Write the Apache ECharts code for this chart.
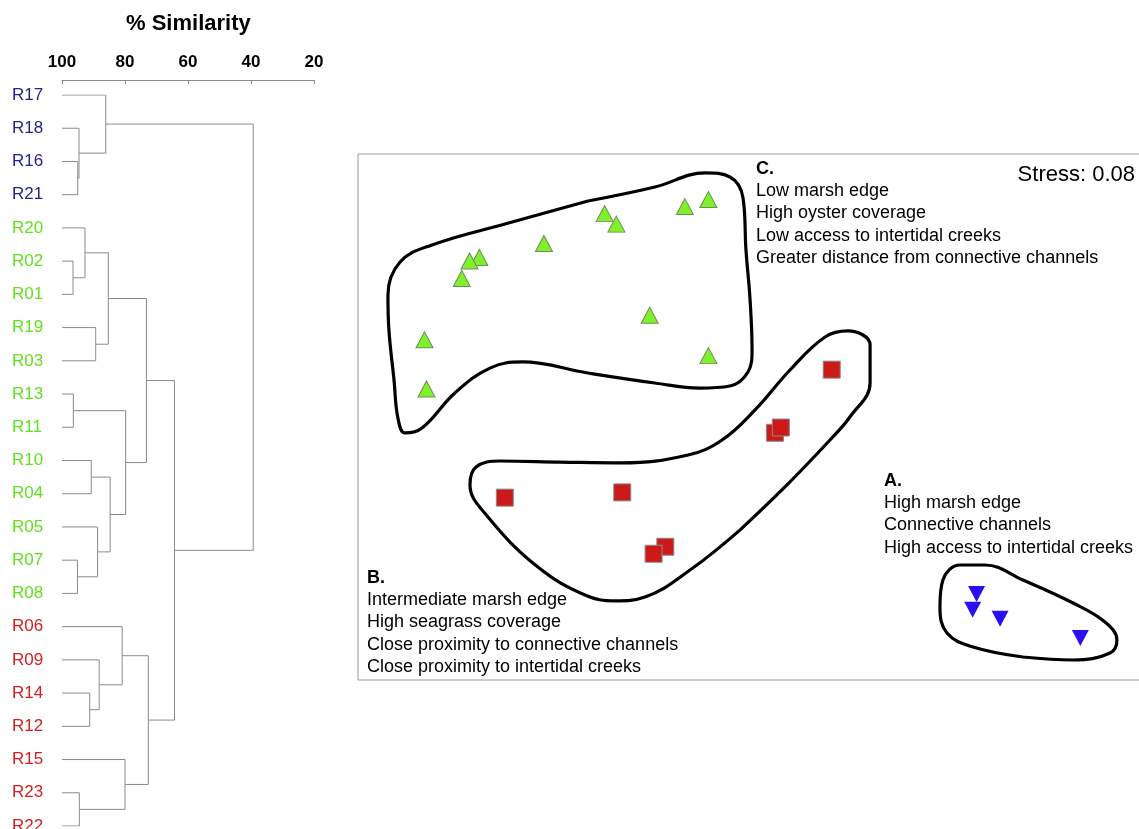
<!DOCTYPE html>
<html>
<head>
<meta charset="utf-8">
<script src="https://cdn.jsdelivr.net/npm/echarts@6/dist/echarts.min.js"></script>
<style>
  html, body { margin: 0; padding: 0; background: #fff; }
  #chart { width: 1139px; height: 829px; }
</style>
</head>
<body>
<div id="chart"></div>
<script>
// dendrogram leaves, top to bottom
const leafNames = ['R17','R18','R16','R21','R20','R02','R01','R19','R03','R13','R11','R10','R04','R05','R07','R08','R06','R09','R14','R12','R15','R23','R22']
const leafGroup = ['A','A','A','A','C','C','C','C','C','C','C','C','C','C','C','C','B','B','B','B','B','B','B']

// merges: node ids 0..22 are leaves, merge i creates node 23 + i
const mergeLeft  = [2, 1, 0, 5, 4, 7, 27, 9, 11, 14, 13, 31, 30, 29, 18, 17, 16, 21, 20, 39, 36, 25]
const mergeRight = [3, 23, 24, 6, 26, 8, 28, 10, 12, 15, 32, 33, 34, 35, 19, 37, 38, 22, 40, 41, 42, 43]
const mergeSim   = [95.0, 94.6, 86.1, 96.5, 92.7, 89.3, 85.3, 96.4, 90.7, 95.1, 88.7, 84.7, 79.8, 73.2, 91.2, 88.2, 80.9, 94.5, 80.0, 72.6, 64.3, 39.3]
const simTicks = [100, 80, 60, 40, 20]

// nMDS ordination scores
const groupA = [[1.16, -1.01], [1.14, -1.10], [1.28, -1.15], [1.69, -1.26]]
const groupB = [[0.42, 0.27], [0.13, -0.09], [0.16, -0.06], [-1.25, -0.46], [-0.65, -0.43], [-0.43, -0.74], [-0.49, -0.78]]
const groupC = [[-0.21, 1.24], [-0.33, 1.20], [-0.74, 1.16], [-0.68, 1.10], [-1.05, 0.99], [-1.38, 0.91], [-1.43, 0.89], [-1.47, 0.79], [-0.51, 0.58], [-0.21, 0.35], [-1.66, 0.44], [-1.65, 0.16]]

// hand drawn group outlines (ordination units)
const hullA = [[1.397, -1.369], [1.142, -1.312], [1.009, -1.232], [0.973, -1.084], [0.988, -0.930], [1.075, -0.844], [1.203, -0.844], [1.397, -0.930], [1.653, -1.061], [1.816, -1.169], [1.877, -1.272], [1.842, -1.346], [1.653, -1.386], [1.397, -1.369]]
const hullB = [[-0.049, -0.645], [-0.304, -0.873], [-0.534, -1.027], [-0.687, -1.049], [-0.841, -1.015], [-1.081, -0.856], [-1.336, -0.570], [-1.428, -0.388], [-1.397, -0.285], [-1.275, -0.251], [-0.968, -0.257], [-0.651, -0.262], [-0.314, -0.217], [-0.140, -0.131], [0.028, 0.040], [0.207, 0.268], [0.386, 0.456], [0.503, 0.491], [0.616, 0.411], [0.616, 0.194], [0.513, 0.0], [0.411, -0.131], [0.181, -0.399], [-0.049, -0.645]]
const hullC = [[-0.825, 1.232], [-0.483, 1.312], [-0.227, 1.392], [-0.100, 1.369], [-0.033, 1.249], [-0.018, 0.952], [0.003, 0.667], [0.013, 0.382], [-0.008, 0.257], [-0.100, 0.177], [-0.253, 0.165], [-0.483, 0.194], [-0.825, 0.251], [-1.162, 0.314], [-1.326, 0.279], [-1.505, 0.137], [-1.673, -0.063], [-1.760, -0.091], [-1.796, -0.006], [-1.816, 0.211], [-1.842, 0.496], [-1.847, 0.696], [-1.785, 0.884], [-1.622, 0.981], [-1.249, 1.101], [-0.825, 1.232]]

const noteA = ['High marsh edge', 'Connective channels', 'High access to intertidal creeks']
const noteB = ['Intermediate marsh edge', 'High seagrass coverage', 'Close proximity to connective channels', 'Close proximity to intertidal creeks']
const noteC = ['Low marsh edge', 'High oyster coverage', 'Low access to intertidal creeks', 'Greater distance from connective channels']

const FONT = 'Liberation Sans, Arial, sans-serif'
const labelColors = { A: '#23238c', B: '#d21e1e', C: '#62e01e' }

window.addEventListener('DOMContentLoaded', () => {
    const chart = echarts.init(document.getElementById('chart'))

    // node positions for the dendrogram
    const nodeX = leafNames.map(() => 100)
    const nodeY = leafNames.map((n, i) => i)
    const treeSeries = mergeSim.map((sim, i) => {
        const a = mergeLeft[i]
        const b = mergeRight[i]
        nodeX.push(sim)
        nodeY.push((nodeY[a] + nodeY[b]) / 2)
        return {
            type: 'line',
            xAxisIndex: 0,
            yAxisIndex: 0,
            symbol: 'none',
            silent: true,
            lineStyle: { color: '#8a8a8a', width: 1 },
            data: [[nodeX[a], nodeY[a]], [sim, nodeY[a]], [sim, nodeY[b]], [nodeX[b], nodeY[b]]]
        }
    })

    const hull = data => ({
        type: 'line',
        xAxisIndex: 1,
        yAxisIndex: 1,
        symbol: 'none',
        smooth: 0.4,
        silent: true,
        lineStyle: { color: '#000', width: 3.2 },
        data: data,
        z: 2
    })

    const noteText = (lines, head, x, y) => {
        const out = [{
            type: 'text', left: x, top: y - 8,
            style: { text: head, font: 'bold 18px ' + FONT, fill: '#000' }
        }]
        lines.forEach((t, i) => out.push({
            type: 'text', left: x, top: y + 14 + i * 22.4,
            style: { text: t, font: '18px ' + FONT, fill: '#000' }
        }))
        return out
    }

    chart.setOption({
        animation: false,
        grid: [
            { left: 62, top: 95, width: 252, height: 731, outerBoundsMode: 'none' },
            { left: 358, top: 154, width: 783, height: 526, show: true, borderColor: '#999', borderWidth: 1, outerBoundsMode: 'none' },
            { left: 62, top: 79, width: 252, height: 1, outerBoundsMode: 'none' }
        ],
        xAxis: [
            { gridIndex: 0, type: 'value', min: 20, max: 100, inverse: true, show: false },
            { gridIndex: 1, type: 'value', min: -2, max: 2, show: false },
            {
                gridIndex: 2, type: 'value', min: 20, max: 100, interval: 20, inverse: true,
                position: 'top',
                axisLine: { lineStyle: { color: '#8a8a8a' } },
                axisTick: { inside: true, length: 4, lineStyle: { color: '#8a8a8a' } },
                axisLabel: { color: '#000', fontWeight: 'bold', fontSize: 17, fontFamily: FONT, margin: 8,
                    formatter: v => simTicks.includes(v) ? String(v) : '' },
                splitLine: { show: false }
            }
        ],
        yAxis: [
            {
                gridIndex: 0, type: 'value', min: 0, max: 22, interval: 1, inverse: true,
                axisLine: { show: false }, axisTick: { show: false }, splitLine: { show: false },
                axisLabel: {
                    fontSize: 17, fontFamily: FONT, margin: 50, align: 'left',
                    formatter: v => leafNames[v] || '',
                    color: v => labelColors[leafGroup[+v]] || '#000'
                }
            },
            { gridIndex: 1, type: 'value', min: -1.5, max: 1.5, show: false },
            { gridIndex: 2, type: 'value', min: 0, max: 1, show: false }
        ],
        series: [
            ...treeSeries,
            hull(hullA), hull(hullB), hull(hullC),
            {
                type: 'scatter', xAxisIndex: 1, yAxisIndex: 1, data: groupC,
                symbol: 'triangle', symbolSize: [17, 16],
                itemStyle: { color: '#80f02c', borderColor: '#6f8f5a', borderWidth: 1, opacity: 1 }, z: 3
            },
            {
                type: 'scatter', xAxisIndex: 1, yAxisIndex: 1, data: groupB,
                symbol: 'rect', symbolSize: 17,
                itemStyle: { color: '#cc1a1a', borderColor: '#8a8a8a', borderWidth: 1, opacity: 1 }, z: 3
            },
            {
                type: 'scatter', xAxisIndex: 1, yAxisIndex: 1, data: groupA,
                symbol: 'triangle', symbolRotate: 180, symbolSize: [17, 16],
                itemStyle: { color: '#2a10f0', opacity: 1 }, z: 3
            }
        ],
        graphic: [
            { type: 'text', left: 126, top: 13, style: { text: '% Similarity', font: 'bold 22px ' + FONT, fill: '#000' } },
            { type: 'text', right: 4, top: 164, style: { text: 'Stress: 0.08', font: '22px ' + FONT, fill: '#000' } },
            ...noteText(noteC, 'C.', 756, 168),
            ...noteText(noteB, 'B.', 367, 577),
            ...noteText(noteA, 'A.', 884, 480)
        ]
    })
})
</script>
</body>
</html>
